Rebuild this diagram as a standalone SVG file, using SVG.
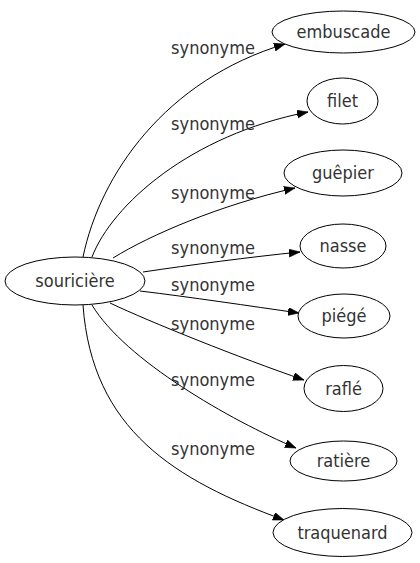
<svg xmlns="http://www.w3.org/2000/svg" width="420" height="563" viewBox="0 0 420 563">
<defs>
<marker id="arr" markerUnits="userSpaceOnUse" markerWidth="12" markerHeight="10" refX="11" refY="4" orient="auto">
<path d="M0,0 L11,4 L0,8 Z" fill="#000" stroke="#000" stroke-width="0.6"/>
</marker>
<style>
.node ellipse{fill:#fff;stroke:#000;stroke-width:1}
.node text{font-family:"DejaVu Sans Condensed","DejaVu Sans",sans-serif;font-stretch:condensed;font-size:18px;fill:#333;text-anchor:middle}
.edges path{fill:none;stroke:#000;stroke-width:1;marker-end:url(#arr)}
.edges text{font-family:"DejaVu Sans Condensed","DejaVu Sans",sans-serif;font-stretch:condensed;font-size:18px;fill:#333;text-anchor:middle}
</style>
</defs>
<rect width="420" height="563" fill="#fff"/>
<g id="edges" class="edges">
<path d="M83,257 C100,175 165,80 285,44"/>
<path d="M92,257 C112,205 190,135 308,112"/>
<path d="M113,258 C150,235 220,205 295,188"/>
<path d="M143,272 C190,265 250,257 300,252"/>
<path d="M140,291 C190,297 250,306 299,313"/>
<path d="M110,303 C150,322 240,358 304,380"/>
<path d="M92,305 C125,360 230,420 296,448"/>
<path d="M83,305 C92,430 175,480 284,520"/>
<text x="213" y="54">synonyme</text>
<text x="213" y="130">synonyme</text>
<text x="213" y="199">synonyme</text>
<text x="213" y="254">synonyme</text>
<text x="213" y="291">synonyme</text>
<text x="213" y="330">synonyme</text>
<text x="213" y="386">synonyme</text>
<text x="213" y="455">synonyme</text>
</g>
<g id="souriciere" class="node"><ellipse cx="75" cy="281" rx="70" ry="24"/><text x="75" y="287">souricière</text></g>
<g id="embuscade" class="node"><ellipse cx="343.5" cy="32" rx="71.5" ry="21"/><text x="343.5" y="38">embuscade</text></g>
<g id="filet" class="node"><ellipse cx="342.5" cy="101" rx="35.5" ry="23"/><text x="342.5" y="107">filet</text></g>
<g id="guepier" class="node"><ellipse cx="343" cy="173" rx="59" ry="23"/><text x="343" y="179">guêpier</text></g>
<g id="nasse" class="node"><ellipse cx="343" cy="246" rx="43" ry="22"/><text x="343" y="252">nasse</text></g>
<g id="piege" class="node"><ellipse cx="344" cy="316" rx="46" ry="22"/><text x="344" y="322">piégé</text></g>
<g id="rafle" class="node"><ellipse cx="343.5" cy="388.5" rx="39.5" ry="23"/><text x="343.5" y="394.5">raflé</text></g>
<g id="ratiere" class="node"><ellipse cx="343.5" cy="461" rx="53.5" ry="20"/><text x="343.5" y="467">ratière</text></g>
<g id="traquenard" class="node"><ellipse cx="342.5" cy="532.5" rx="69.5" ry="24"/><text x="342.5" y="538.5">traquenard</text></g>
</svg>
